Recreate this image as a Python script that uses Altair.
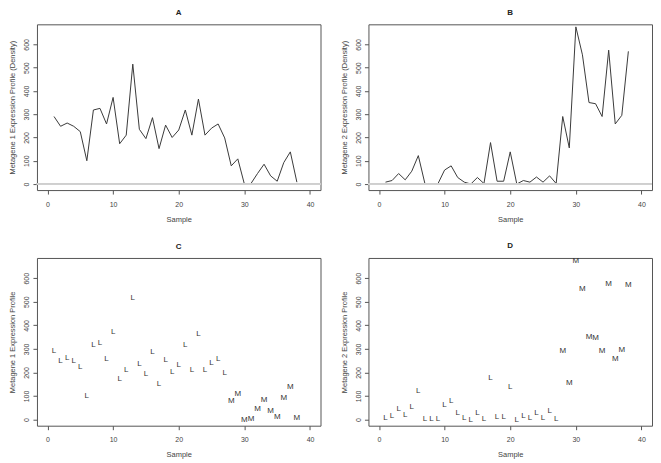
import altair as alt
import pandas as pd

samples = [1, 2, 3, 4, 5, 6, 7, 8, 9, 10, 11, 12, 13, 14, 15, 16, 17, 18, 19, 20,
           21, 22, 23, 24, 25, 26, 27, 28, 29, 30, 31, 32, 33, 34, 35, 36, 37, 38]
metagene1 = [290, 248, 262, 248, 225, 100, 318, 325, 258, 372, 173, 210, 515, 235, 195,
             285, 152, 253, 200, 232, 318, 210, 365, 210, 240, 258, 198, 78, 108, 0,
             2, 45, 85, 35, 12, 92, 138, 8]
metagene2 = [8, 15, 45, 18, 55, 122, 2, 2, 2, 60, 78, 28, 8, 0, 28, 2, 178, 12, 12, 138,
             0, 15, 8, 30, 8, 35, 2, 290, 155, 675, 555, 350, 345, 290, 575, 258, 295, 570]
classes = ["L", "L", "L", "L", "L", "L", "L", "L", "L", "L", "L", "L", "L", "L", "L",
           "L", "L", "L", "L", "L", "L", "L", "L", "L", "L", "L", "L", "M", "M", "M",
           "M", "M", "M", "M", "M", "M", "M", "M"]
x_ticks = [0, 10, 20, 30, 40]
y_ticks = [0, 100, 200, 300, 400, 500, 600]

df = pd.DataFrame({"Sample": samples, "M1": metagene1, "M2": metagene2, "Class": classes})

FONT = "Liberation Sans"
TXT = "#444444"
xs = alt.Scale(domain=[-1.6, 41.6], nice=False, zero=False)
ys = alt.Scale(domain=[-26, 686], nice=False, zero=False)

W = 284


def xaxis():
    return alt.Axis(values=x_ticks, title="Sample", grid=False, domain=False,
                    tickSize=4, tickColor="#555555", labelPadding=6, titlePadding=8,
                    labelFontSize=7, titleFontSize=7.5, labelColor=TXT, titleColor=TXT,
                    titleFontWeight="normal", labelFont=FONT, titleFont=FONT)


def yaxis(title):
    return alt.Axis(values=y_ticks, title=title, grid=False, domain=False,
                    tickSize=4, tickColor="#555555", labelPadding=3, titlePadding=6,
                    labelAngle=270, labelAlign="center", labelBaseline="bottom",
                    labelFontSize=7, titleFontSize=7.5, labelColor=TXT, titleColor=TXT,
                    titleFontWeight="normal", labelFont=FONT, titleFont=FONT,
                    labelOverlap=False)


def ptitle(letter):
    return alt.TitleParams(letter, fontSize=8, fontWeight="bold", font=FONT,
                           color="#222222", anchor="middle", frame="group", offset=7)


def line_panel(col, letter, ytitle):
    line = alt.Chart(df).mark_line(color="#3a3a3a", strokeWidth=1).encode(
        x=alt.X("Sample:Q", scale=xs, axis=xaxis()),
        y=alt.Y(f"{col}:Q", scale=ys, axis=yaxis(ytitle)),
    )
    zero = alt.Chart(df).mark_rule(color="#d0d0d0", strokeWidth=1).encode(
        y=alt.Y(datum=0, scale=ys, axis=yaxis(ytitle))
    )
    return alt.layer(line, zero).properties(width=W, height=166, title=ptitle(letter))


def text_panel(col, letter, ytitle):
    return alt.Chart(df).mark_text(fontSize=8, color="#333333", font=FONT).encode(
        x=alt.X("Sample:Q", scale=xs, axis=xaxis()),
        y=alt.Y(f"{col}:Q", scale=ys, axis=yaxis(ytitle)),
        text="Class:N",
    ).properties(width=W, height=168, title=ptitle(letter))


A = line_panel("M1", "A", "Metagene 1 Expression Profile (Density)")
B = line_panel("M2", "B", "Metagene 2 Expression Profile (Density)")
C = text_panel("M1", "C", "Metagene 1 Expression Profile")
D = text_panel("M2", "D", "Metagene 2 Expression Profile")

top = alt.hconcat(A, B, spacing=18)
bottom = alt.hconcat(C, D, spacing=18)

chart = alt.vconcat(top, bottom, spacing=18).properties(
    padding=0, background="white"
).configure_view(stroke="#555555", strokeWidth=1)

chart.save("out.html", embed_options={"renderer": "svg", "actions": False})
